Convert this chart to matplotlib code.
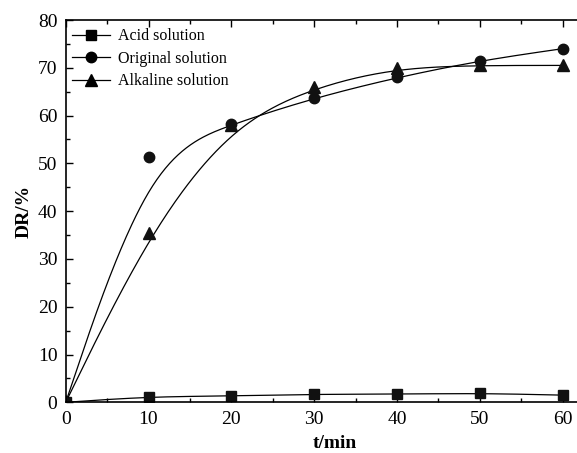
import matplotlib
matplotlib.use("Agg")
import matplotlib.pyplot as plt
import numpy as np
from matplotlib.ticker import MultipleLocator

# data
t_min = [0, 10, 20, 30, 40, 50, 60]
acid_dr = [0, 1.2, 1.3, 1.7, 1.7, 1.9, 1.5]
original_dr = [0, 51.3, 58.2, 63.7, 68.0, 71.5, 74.0]
alkaline_dr = [0, 35.5, 58.0, 66.0, 70.0, 70.5, 70.5]


def bspline(xs, ys, n=60):
    """Uniform cubic B-spline with the end points tripled so it starts/ends on them."""
    pts = np.column_stack([xs, ys]).astype(float)
    pts = np.vstack([pts[:1], pts[:1], pts, pts[-1:], pts[-1:]])
    s = np.linspace(0, 1, n)
    b0 = (1 - s) ** 3 / 6
    b1 = (3 * s ** 3 - 6 * s ** 2 + 4) / 6
    b2 = (-3 * s ** 3 + 3 * s ** 2 + 3 * s + 1) / 6
    b3 = s ** 3 / 6
    segs = []
    for i in range(len(pts) - 3):
        p0, p1, p2, p3 = pts[i:i + 4]
        segs.append(np.outer(b0, p0) + np.outer(b1, p1) + np.outer(b2, p2) + np.outer(b3, p3))
    curve = np.vstack(segs)
    return curve[:, 0], curve[:, 1]


plt.rcParams["font.family"] = "Liberation Serif"

fig = plt.figure(figsize=(5.77, 4.53), dpi=100)
ax = fig.add_axes([0.1139, 0.1119, 0.9328, 0.8439])

series = [
    ("Acid solution", acid_dr, "s", 6.5),
    ("Original solution", original_dr, "o", 7.5),
    ("Alkaline solution", alkaline_dr, "^", 8),
]
for name, vals, marker, ms in series:
    cx, cy = bspline(t_min, vals)
    ax.plot(cx, cy, color="black", lw=0.9)
    ax.plot(t_min, vals, linestyle="none", marker=marker, ms=ms, color="#111111")
    ax.plot([], [], color="black", lw=0.9, marker=marker, ms=ms, label=name)

ax.set_xlim(0, 65)
ax.set_ylim(0, 80)
ax.xaxis.set_minor_locator(MultipleLocator(5))
ax.yaxis.set_major_locator(MultipleLocator(10))
ax.yaxis.set_minor_locator(MultipleLocator(5))
ax.set_xticks([0, 10, 20, 30, 40, 50, 60])
ax.tick_params(which="both", direction="in", top=True, right=False, labelsize=14, pad=6)
ax.tick_params(which="major", length=5, width=1)
ax.tick_params(which="minor", length=3, width=1)
ax.spines["right"].set_visible(False)
for s in ["left", "bottom", "top"]:
    ax.spines[s].set_linewidth(1.2)

ax.set_xlabel("t/min", fontsize=14, fontweight="bold", labelpad=5)
ax.set_ylabel("DR/%", fontsize=14, fontweight="bold", labelpad=4)

ax.legend(loc="upper left", frameon=False, fontsize=11.5, handlelength=2.4,
          borderaxespad=0.0, labelspacing=0.4, handletextpad=0.5,
          bbox_to_anchor=(0.0, 0.995))

plt.savefig("out.png", dpi=100)
plt.close()
